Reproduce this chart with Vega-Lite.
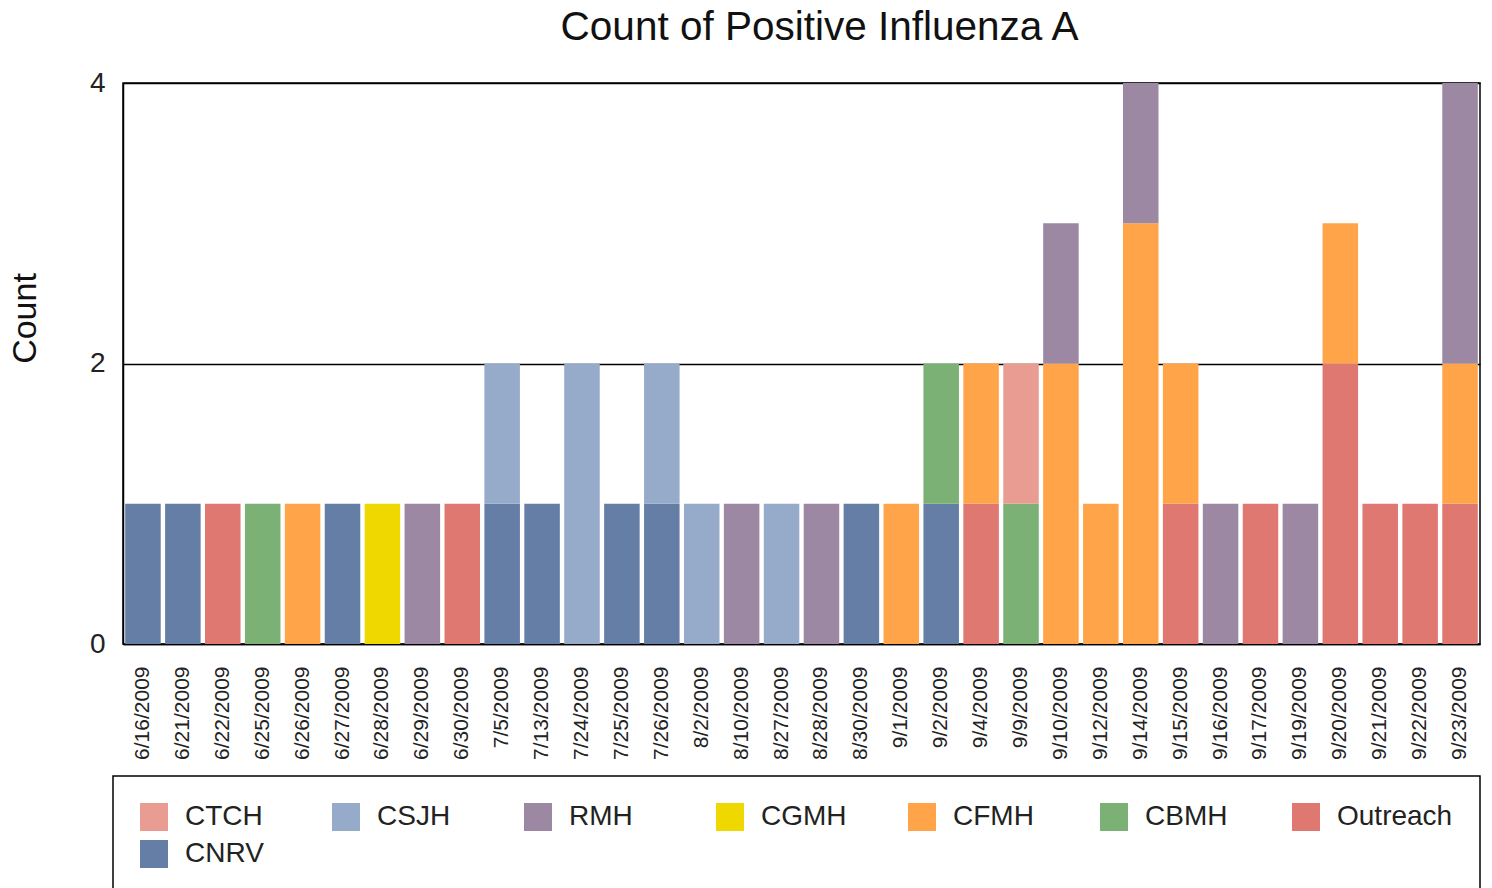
{
  "$schema": "https://vega.github.io/schema/vega-lite/v6.json",
  "autosize": {"type": "none"},
  "padding": {"left": 123, "top": 83, "right": 12, "bottom": 244},
  "width": 1357,
  "height": 561,
  "background": "white",
  "title": {
    "text": "Count of Positive Influenza A",
    "font": "Liberation Sans",
    "fontSize": 40.5,
    "fontWeight": "normal",
    "color": "#111",
    "anchor": "middle",
    "frame": "group",
    "dx": 18,
    "offset": 21
  },
  "data": {
    "values": [
      {"date": "6/16/2009", "site": "CNRV", "count": 1},
      {"date": "6/21/2009", "site": "CNRV", "count": 1},
      {"date": "6/22/2009", "site": "Outreach", "count": 1},
      {"date": "6/25/2009", "site": "CBMH", "count": 1},
      {"date": "6/26/2009", "site": "CFMH", "count": 1},
      {"date": "6/27/2009", "site": "CNRV", "count": 1},
      {"date": "6/28/2009", "site": "CGMH", "count": 1},
      {"date": "6/29/2009", "site": "RMH", "count": 1},
      {"date": "6/30/2009", "site": "Outreach", "count": 1},
      {"date": "7/5/2009", "site": "CNRV", "count": 1},
      {"date": "7/5/2009", "site": "CSJH", "count": 1},
      {"date": "7/13/2009", "site": "CNRV", "count": 1},
      {"date": "7/24/2009", "site": "CSJH", "count": 2},
      {"date": "7/25/2009", "site": "CNRV", "count": 1},
      {"date": "7/26/2009", "site": "CNRV", "count": 1},
      {"date": "7/26/2009", "site": "CSJH", "count": 1},
      {"date": "8/2/2009", "site": "CSJH", "count": 1},
      {"date": "8/10/2009", "site": "RMH", "count": 1},
      {"date": "8/27/2009", "site": "CSJH", "count": 1},
      {"date": "8/28/2009", "site": "RMH", "count": 1},
      {"date": "8/30/2009", "site": "CNRV", "count": 1},
      {"date": "9/1/2009", "site": "CFMH", "count": 1},
      {"date": "9/2/2009", "site": "CNRV", "count": 1},
      {"date": "9/2/2009", "site": "CBMH", "count": 1},
      {"date": "9/4/2009", "site": "Outreach", "count": 1},
      {"date": "9/4/2009", "site": "CFMH", "count": 1},
      {"date": "9/9/2009", "site": "CBMH", "count": 1},
      {"date": "9/9/2009", "site": "CTCH", "count": 1},
      {"date": "9/10/2009", "site": "CFMH", "count": 2},
      {"date": "9/10/2009", "site": "RMH", "count": 1},
      {"date": "9/12/2009", "site": "CFMH", "count": 1},
      {"date": "9/14/2009", "site": "CFMH", "count": 3},
      {"date": "9/14/2009", "site": "RMH", "count": 1},
      {"date": "9/15/2009", "site": "Outreach", "count": 1},
      {"date": "9/15/2009", "site": "CFMH", "count": 1},
      {"date": "9/16/2009", "site": "RMH", "count": 1},
      {"date": "9/17/2009", "site": "Outreach", "count": 1},
      {"date": "9/19/2009", "site": "RMH", "count": 1},
      {"date": "9/20/2009", "site": "Outreach", "count": 2},
      {"date": "9/20/2009", "site": "CFMH", "count": 1},
      {"date": "9/21/2009", "site": "Outreach", "count": 1},
      {"date": "9/22/2009", "site": "Outreach", "count": 1},
      {"date": "9/23/2009", "site": "Outreach", "count": 1},
      {"date": "9/23/2009", "site": "CFMH", "count": 1},
      {"date": "9/23/2009", "site": "RMH", "count": 2}
    ]
  },
  "transform": [
    {"calculate": "indexof(['CTCH','CSJH','RMH','CGMH','CFMH','CBMH','Outreach','CNRV'], datum.site)", "as": "stackIndex"}
  ],
  "mark": {"type": "bar"},
  "encoding": {
    "x": {
      "field": "date",
      "type": "nominal",
      "sort": null,
      "scale": {"paddingInner": 0.11, "paddingOuter": 0.055},
      "axis": {
        "title": null,
        "labelAngle": -90,
        "labelFont": "Liberation Sans",
        "labelFontSize": 21,
        "labelColor": "#222",
        "labelPadding": 22,
        "ticks": false,
        "tickSize": 0,
        "domainColor": "black",
        "domainWidth": 1.5,
        "grid": false
      }
    },
    "y": {
      "field": "count",
      "type": "quantitative",
      "aggregate": "sum",
      "stack": "zero",
      "scale": {"domain": [0, 4], "nice": false},
      "axis": {
        "title": "Count",
        "titleFont": "Liberation Sans",
        "titleFontSize": 34,
        "titleFontWeight": "normal",
        "titleColor": "#111",
        "titlePadding": 47,
        "titleY": 235,
        "values": [0, 2, 4],
        "labelFont": "Liberation Sans",
        "labelFontSize": 28,
        "labelColor": "#222",
        "labelPadding": 18,
        "ticks": false,
        "tickSize": 0,
        "domainColor": "black",
        "domainWidth": 1.5,
        "grid": true,
        "gridColor": "black",
        "gridWidth": 1.5,
        "gridOpacity": 1
      }
    },
    "color": {
      "field": "site",
      "type": "nominal",
      "scale": {
        "domain": ["CTCH", "CSJH", "RMH", "CGMH", "CFMH", "CBMH", "Outreach", "CNRV"],
        "range": ["#E89C92", "#96ABC9", "#9C88A3", "#EED800", "#FFA448", "#7BB174", "#E07872", "#647EA6"]
      },
      "legend": {
        "title": null,
        "orient": "none",
        "direction": "horizontal",
        "legendX": -10,
        "legendY": 693,
        "columns": 7,
        "gridAlign": "all",
        "symbolType": "square",
        "symbolSize": 784,
        "symbolStrokeWidth": 0,
        "labelFont": "Liberation Sans",
        "labelFontSize": 28,
        "labelColor": "#222",
        "labelOffset": 17,
        "labelLimit": 300,
        "columnPadding": 31,
        "rowPadding": 9,
        "padding": 27,
        "strokeColor": "black"
      }
    },
    "order": {"field": "stackIndex", "type": "quantitative", "sort": "descending"}
  },
  "config": {
    "view": {"stroke": "black", "strokeWidth": 1.5},
    "legend": {"strokeWidth": 1.5}
  }
}
